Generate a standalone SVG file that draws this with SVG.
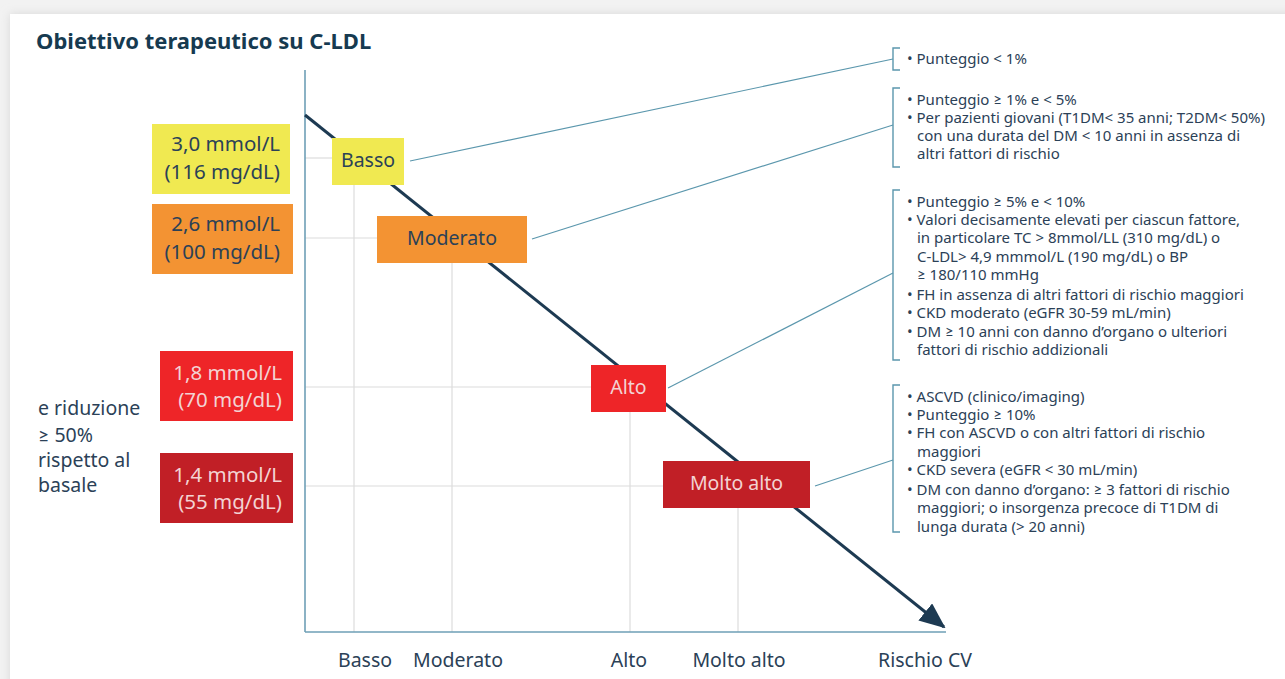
<svg xmlns="http://www.w3.org/2000/svg" width="1285" height="679" viewBox="0 0 1285 679">
<style>
  text { font-family: "Noto Sans", "Lato", sans-serif; fill: #2b4157; }
  .title { font-size: 22px; font-weight: 700; fill: #163a50; }
  .val { font-size: 20.5px; text-anchor: end; }
  .lt { fill: #f3d3d3; }
  .lbl { font-size: 19.5px; text-anchor: middle; }
  .ax { font-size: 19.5px; text-anchor: middle; }
  .side { font-size: 19.5px; }
  .note { font-size: 15px; }
  .grid { stroke: #dcdcdc; stroke-width: 1.2; fill: none; }
  .axis { stroke: #6e9fb6; stroke-width: 1.6; fill: none; }
  .conn { stroke: #5b97ad; stroke-width: 1.2; fill: none; }
  .br { stroke: #5b97ad; stroke-width: 1.4; fill: none; }
</style>
<defs>
  <filter id="sh" x="-5%" y="-5%" width="110%" height="110%">
    <feGaussianBlur stdDeviation="5"/>
  </filter>
  <marker id="arr" markerWidth="26" markerHeight="22" refX="24" refY="11" orient="auto" markerUnits="userSpaceOnUse" viewBox="0 0 26 22">
    <path d="M0,0 L26,11 L0,22 Z" fill="#1d3a52"/>
  </marker>
</defs>
<rect x="0" y="0" width="1285" height="679" fill="#f2f2f2"/>
<rect x="10" y="14" width="1290" height="680" fill="#d8d8d8" filter="url(#sh)"/>
<rect x="10" y="14" width="1290" height="680" fill="#ffffff"/>

<text class="title" x="36" y="49">Obiettivo terapeutico su C-LDL</text>

<g id="grid">
  <line class="grid" x1="305" y1="158" x2="332" y2="158"/>
  <line class="grid" x1="305" y1="238" x2="377" y2="238"/>
  <line class="grid" x1="305" y1="387" x2="591" y2="387"/>
  <line class="grid" x1="305" y1="486" x2="663" y2="486"/>
  <line class="grid" x1="354" y1="185" x2="354" y2="632"/>
  <line class="grid" x1="452" y1="263" x2="452" y2="632"/>
  <line class="grid" x1="630" y1="412" x2="630" y2="632"/>
  <line class="grid" x1="738" y1="508" x2="738" y2="632"/>
</g>

<g id="axes">
  <line class="axis" x1="305" y1="70" x2="305" y2="632"/>
  <line class="axis" x1="305" y1="632" x2="946" y2="632"/>
  <line x1="305" y1="115" x2="944" y2="627" stroke="#1d3a52" stroke-width="3" marker-end="url(#arr)"/>
</g>

<g id="connectors">
  <line class="conn" x1="410" y1="161" x2="893" y2="59"/>
  <line class="conn" x1="532" y1="239" x2="893" y2="125"/>
  <line class="conn" x1="668" y1="388" x2="893" y2="273"/>
  <line class="conn" x1="815" y1="486" x2="893" y2="460"/>
</g>

<g id="brackets">
  <path class="br" d="M900,48 H893 V70 H900"/>
  <path class="br" d="M900,88 H893 V167 H900"/>
  <path class="br" d="M900,190 H893 V360 H900"/>
  <path class="br" d="M900,385 H893 V532 H900"/>
</g>

<g id="val-basso">
  <rect x="152" y="124" width="138" height="70" fill="#f0e951"/>
  <text class="val" x="280" y="151">3,0 mmol/L</text>
  <text class="val" x="280" y="179">(116 mg/dL)</text>
</g>
<g id="val-moderato">
  <rect x="152" y="204" width="141" height="70" fill="#f39333"/>
  <text class="val" x="280" y="231">2,6 mmol/L</text>
  <text class="val" x="280" y="259">(100 mg/dL)</text>
</g>
<g id="val-alto">
  <rect x="160" y="351" width="133" height="70" fill="#ee2528"/>
  <text class="val lt" x="282" y="380">1,8 mmol/L</text>
  <text class="val lt" x="282" y="407">(70 mg/dL)</text>
</g>
<g id="val-moltoalto">
  <rect x="160" y="453" width="133" height="70" fill="#c11f26"/>
  <text class="val lt" x="282" y="482">1,4 mmol/L</text>
  <text class="val lt" x="282" y="509">(55 mg/dL)</text>
</g>

<g id="riduzione">
  <text class="side" x="38" y="415">e riduzione</text>
  <text class="side" x="38" y="442">≥ 50%</text>
  <text class="side" x="38" y="467">rispetto al</text>
  <text class="side" x="38" y="492">basale</text>
</g>

<g id="node-basso">
  <rect x="332" y="138" width="72" height="47" fill="#f0e951"/>
  <text class="lbl" x="368" y="167">Basso</text>
</g>
<g id="node-moderato">
  <rect x="377" y="216" width="150" height="47" fill="#f39333"/>
  <text class="lbl" x="452" y="245">Moderato</text>
</g>
<g id="node-alto">
  <rect x="591" y="365" width="75" height="47" fill="#ee2528"/>
  <text class="lbl lt" x="628.5" y="394">Alto</text>
</g>
<g id="node-moltoalto">
  <rect x="663" y="461" width="147" height="47" fill="#c11f26"/>
  <text class="lbl lt" x="736.5" y="490">Molto alto</text>
</g>

<g id="xlabels">
  <text class="ax" x="365" y="667">Basso</text>
  <text class="ax" x="458" y="667">Moderato</text>
  <text class="ax" x="629" y="667">Alto</text>
  <text class="ax" x="739" y="667">Molto alto</text>
  <text class="ax" x="925" y="667">Rischio CV</text>
</g>

<g id="note-basso">
  <text class="note" x="907" y="64">• Punteggio &lt; 1%</text>
</g>
<g id="note-moderato">
  <text class="note" x="907" y="105">• Punteggio ≥ 1% e &lt; 5%</text>
  <text class="note" x="907" y="123">• Per pazienti giovani (T1DM&lt; 35 anni; T2DM&lt; 50%)</text>
  <text class="note" x="917" y="141">con una durata del DM &lt; 10 anni in assenza di</text>
  <text class="note" x="917" y="159">altri fattori di rischio</text>
</g>
<g id="note-alto">
  <text class="note" x="907" y="207">• Punteggio ≥ 5% e &lt; 10%</text>
  <text class="note" x="907" y="225">• Valori decisamente elevati per ciascun fattore,</text>
  <text class="note" x="917" y="243">in particolare TC &gt; 8mmol/LL (310 mg/dL) o</text>
  <text class="note" x="917" y="262">C-LDL&gt; 4,9 mmmol/L (190 mg/dL) o BP</text>
  <text class="note" x="917" y="280">≥ 180/110 mmHg</text>
  <text class="note" x="907" y="300">• FH in assenza di altri fattori di rischio maggiori</text>
  <text class="note" x="907" y="318">• CKD moderato (eGFR 30-59 mL/min)</text>
  <text class="note" x="907" y="337">• DM ≥ 10 anni con danno d’organo o ulteriori</text>
  <text class="note" x="917" y="355">fattori di rischio addizionali</text>
</g>
<g id="note-moltoalto">
  <text class="note" x="907" y="402">• ASCVD (clinico/imaging)</text>
  <text class="note" x="907" y="420">• Punteggio ≥ 10%</text>
  <text class="note" x="907" y="438">• FH con ASCVD o con altri fattori di rischio</text>
  <text class="note" x="917" y="457">maggiori</text>
  <text class="note" x="907" y="475">• CKD severa (eGFR &lt; 30 mL/min)</text>
  <text class="note" x="907" y="495">• DM con danno d’organo: ≥ 3 fattori di rischio</text>
  <text class="note" x="917" y="513">maggiori; o insorgenza precoce di T1DM di</text>
  <text class="note" x="917" y="532">lunga durata (&gt; 20 anni)</text>
</g>
</svg>
